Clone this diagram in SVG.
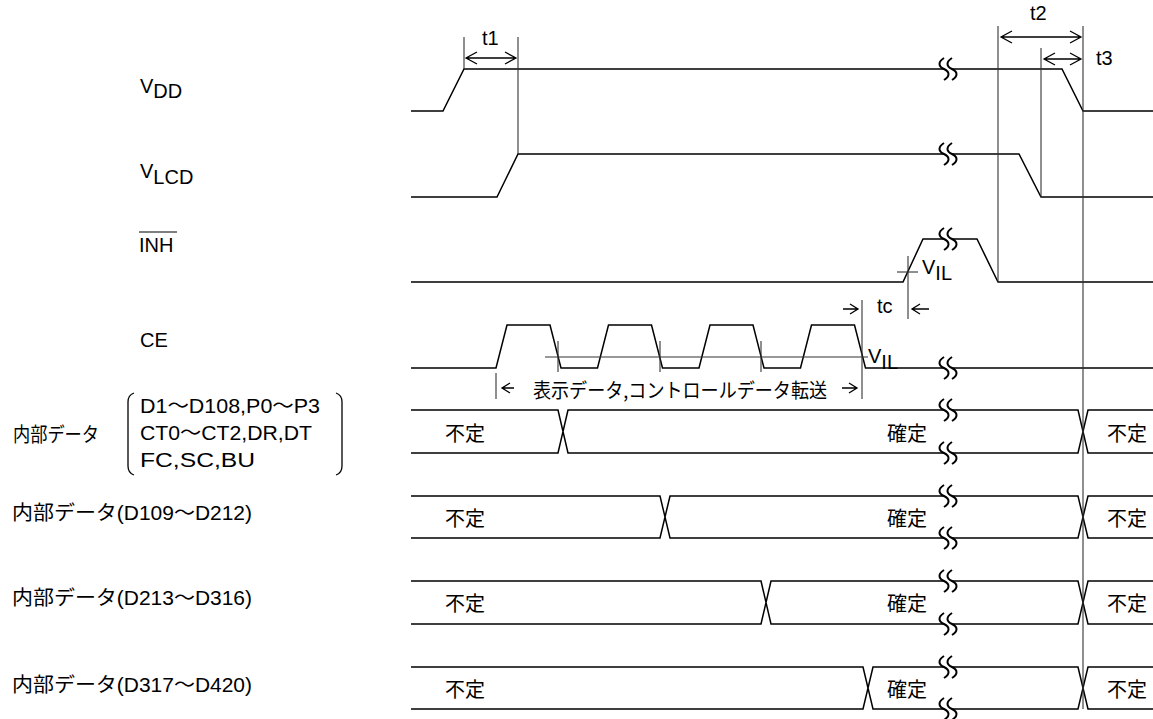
<svg xmlns="http://www.w3.org/2000/svg" xmlns:xlink="http://www.w3.org/1999/xlink" width="1153" height="719" viewBox="0 0 1153 719">
<style>
  text { font-family: "Liberation Sans", "Noto Sans CJK JP", sans-serif; font-size: 20px; fill: #000; }
  .jp { font-family: "Noto Sans CJK JP", "Liberation Sans", sans-serif; }
  .mid { dominant-baseline: central; }
  .wave { fill: none; stroke: #000; stroke-width: 1.5; stroke-linejoin: miter; }
  .ref { fill: none; stroke: #333; stroke-width: 1.1; }
  .arr { fill: none; stroke: #000; stroke-width: 1.3; }
  .brk { fill: none; stroke: #000; stroke-width: 2; }
</style>
<defs>
  <path id="brk" class="brk" d="M-4,-11 c-6,4 -6,8 0,11 c6,3 6,7 0,11 M4,-11 c-6,4 -6,8 0,11 c6,3 6,7 0,11"/>
</defs>
<rect x="0" y="0" width="1153" height="719" fill="#fff"/>

<!-- signal labels -->
<g id="label-vdd"><text x="140" y="93">V<tspan dy="5">DD</tspan></text></g>
<g id="label-vlcd"><text x="140" y="178">V<tspan dy="6">LCD</tspan></text></g>
<g id="label-inh"><text x="139" y="252">INH</text><line x1="139" y1="232" x2="177" y2="232" stroke="#000" stroke-width="1.2"/></g>
<g id="label-ce"><text x="140" y="347">CE</text></g>
<g id="label-data1">
  <text class="jp mid" x="13" y="433" textLength="86" lengthAdjust="spacingAndGlyphs">内部データ</text>
  <path class="arr" d="M134,393 Q128,395 128,402 V466 Q128,473 134,475"/>
  <path class="arr" d="M336,393 Q342,395 342,402 V466 Q342,473 336,475"/>
  <text x="140" y="413" textLength="180" lengthAdjust="spacingAndGlyphs">D1～D108,P0～P3</text>
  <text x="140" y="440" textLength="172" lengthAdjust="spacingAndGlyphs">CT0～CT2,DR,DT</text>
  <text x="140" y="467" textLength="115" lengthAdjust="spacingAndGlyphs">FC,SC,BU</text>
</g>
<g id="label-data2"><text class="mid" x="12" y="513" textLength="240" lengthAdjust="spacingAndGlyphs">内部データ(D109～D212)</text></g>
<g id="label-data3"><text class="mid" x="12" y="598" textLength="240" lengthAdjust="spacingAndGlyphs">内部データ(D213～D316)</text></g>
<g id="label-data4"><text class="mid" x="12" y="685" textLength="240" lengthAdjust="spacingAndGlyphs">内部データ(D317～D420)</text></g>

<!-- waveforms -->
<g id="wave-vdd">
  <path class="wave" d="M411,111 H443 L464,69 H944 M952,69 H1062 L1083,111 H1153"/>
  <use xlink:href="#brk" x="948" y="69"/>
</g>
<g id="wave-vlcd">
  <path class="wave" d="M411,197 H497 L518,154 H944 M952,154 H1019 L1041,197 H1153"/>
  <use xlink:href="#brk" x="948" y="154"/>
</g>
<g id="wave-inh">
  <path class="wave" d="M411,282 H903 L923,239 H944 M952,239 H977 L998,282 H1153"/>
  <use xlink:href="#brk" x="948" y="239"/>
  <line class="ref" x1="897" y1="272" x2="918" y2="272"/>
  <text x="922" y="274">V<tspan dy="6">IL</tspan></text>
</g>
<g id="wave-ce">
  <path class="wave" d="M411,368 H496 L507,325 H550 L561,368 H597.5 L608.5,325 H651.5 L662.5,368 H699 L710,325 H753 L764,368 H800.5 L811.5,325 H854.5 L865.5,368 H944 M952,368 H1153"/>
  <use xlink:href="#brk" x="948" y="368"/>
  <line class="ref" x1="545" y1="357" x2="868" y2="357"/>
  <line class="ref" x1="558" y1="341" x2="558" y2="372"/>
  <line class="ref" x1="660" y1="341" x2="660" y2="372"/>
  <line class="ref" x1="761" y1="341" x2="761" y2="372"/>
  <text x="868" y="363">V<tspan dy="6">IL</tspan></text>
</g>

<g id="data1">
  <path class="wave" d="M411,410 H558 L568,453 H944 M952,453 H1078 L1088,410 H1153 M411,453 H558 L568,410 H944 M952,410 H1078 L1088,453 H1153"/>
  <use xlink:href="#brk" x="948" y="410"/><use xlink:href="#brk" x="948" y="453"/>
  <text class="jp mid" x="445" y="432">不定</text>
  <text class="jp mid" x="887" y="432">確定</text>
  <text class="jp mid" x="1107" y="432">不定</text>
</g>
<g id="data2">
  <path class="wave" d="M411,496 H660 L670,538 H944 M952,538 H1078 L1088,496 H1153 M411,538 H660 L670,496 H944 M952,496 H1078 L1088,538 H1153"/>
  <use xlink:href="#brk" x="948" y="496"/><use xlink:href="#brk" x="948" y="538"/>
  <text class="jp mid" x="445" y="517">不定</text>
  <text class="jp mid" x="887" y="517">確定</text>
  <text class="jp mid" x="1107" y="517">不定</text>
</g>
<g id="data3">
  <path class="wave" d="M411,581 H761 L771,624 H944 M952,624 H1078 L1088,581 H1153 M411,624 H761 L771,581 H944 M952,581 H1078 L1088,624 H1153"/>
  <use xlink:href="#brk" x="948" y="581"/><use xlink:href="#brk" x="948" y="624"/>
  <text class="jp mid" x="445" y="602">不定</text>
  <text class="jp mid" x="887" y="602">確定</text>
  <text class="jp mid" x="1107" y="602">不定</text>
</g>
<g id="data4">
  <path class="wave" d="M411,667 H863 L873,709 H944 M952,709 H1078 L1088,667 H1153 M411,709 H863 L873,667 H944 M952,667 H1078 L1088,709 H1153"/>
  <use xlink:href="#brk" x="948" y="667"/><use xlink:href="#brk" x="948" y="709"/>
  <text class="jp mid" x="445" y="688">不定</text>
  <text class="jp mid" x="887" y="688">確定</text>
  <text class="jp mid" x="1107" y="688">不定</text>
</g>

<!-- timing reference lines and dimension arrows -->
<g id="connectors">
  <line class="ref" x1="464" y1="37" x2="464" y2="69"/>
  <line class="ref" x1="518" y1="37" x2="518" y2="154"/>
  <line class="ref" x1="998" y1="26" x2="998" y2="282"/>
  <line class="ref" x1="1041" y1="48" x2="1041" y2="197"/>
  <line class="ref" x1="1083" y1="26" x2="1083" y2="709"/>
  <line class="ref" x1="908" y1="256" x2="908" y2="319"/>
  <line class="ref" x1="862" y1="300" x2="862" y2="399"/>
  <line class="ref" x1="496" y1="373" x2="496" y2="399"/>

  <path class="arr" d="M466,58 H516 M477,52 L466,58 L477,64 M505,52 L516,58 L505,64"/>
  <path class="arr" d="M1001,37 H1081 M1012,31 L1001,37 L1012,43 M1070,31 L1081,37 L1070,43"/>
  <path class="arr" d="M1044,59 H1081 M1055,53 L1044,59 L1055,65 M1070,53 L1081,59 L1070,65"/>
  <path class="arr" d="M843,309 H858 M850,304 L858,309 L850,314"/>
  <path class="arr" d="M929,309 H912 M920,304 L912,309 L920,314"/>
  <path class="arr" d="M502,388 H514 M510,383 L502,388 L510,393"/>
  <path class="arr" d="M842,388 H857 M849,383 L857,388 L849,393"/>

  <text x="482" y="45">t1</text>
  <text x="1030" y="20">t2</text>
  <text x="1096" y="65">t3</text>
  <text x="877" y="313">tc</text>
  <text class="jp mid" x="533" y="389" font-size="18" textLength="294" lengthAdjust="spacingAndGlyphs">表示データ,コントロールデータ転送</text>
</g>
</svg>
